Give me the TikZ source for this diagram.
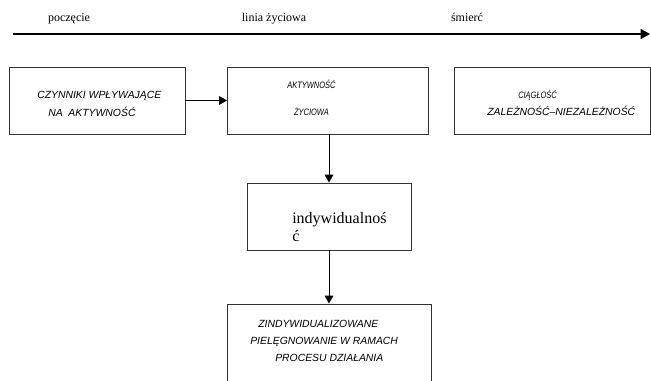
\documentclass[tikz,border=0pt]{standalone}
\usepackage{fontspec}
\usepackage{graphicx}
\setmainfont{Liberation Serif}
\setsansfont{Liberation Sans}
\newcommand{\narrowtxt}[1]{\scalebox{0.8}[1]{#1}}
\usetikzlibrary{arrows.meta, positioning}

\begin{document}
\begin{tikzpicture}[
    x=0.75pt, y=-0.75pt,
    box/.style={rectangle, draw=black!80, line width=0.6pt, inner sep=0pt},
    boxtxt/.style={inner sep=0pt, align=left,
                   font=\sffamily\itshape\fontsize{7.8}{13.5}\selectfont},
    lbl/.style={inner sep=0pt, font=\fontsize{9}{11}\selectfont},
    arr/.style={-{Triangle[length=6pt, width=6.5pt]}, line width=0.7pt},
    timeline/.style={-{Triangle[length=7pt, width=7.5pt]}, line width=1pt}
  ]
    \clip (0,0) rectangle (651,381);

    % time axis
    \coordinate (birth) at (13,34);
    \coordinate (death) at (650,34);
    \draw[timeline] (birth) -- (death);
    \node[lbl, anchor=base] (conception) at (69,22)  {poczęcie};
    \node[lbl, anchor=base] (lifeline)   at (274,22) {linia życiowa};
    \node[lbl, anchor=base] (dying)      at (467,22) {śmierć};

    % boxes
    \node[box, minimum width=132pt, minimum height=50.25pt]   (factors)    at (97,100.5)  {};
    \node[box, minimum width=150.75pt, minimum height=50.25pt] (activity)   at (328,100.5) {};
    \node[box, minimum width=147pt, minimum height=50.25pt]   (continuity) at (552,100.5) {};
    \node[box, minimum width=123pt, minimum height=50.25pt]   (individ)    at (329,216.5) {};
    \node[box, minimum width=153pt, minimum height=75pt]      (care)       at (329,354)   {};

    % box texts (base = last line)
    \node[boxtxt, anchor=base west] (factorstxt) at (37,116.5)
      {CZYNNIKI WPŁYWAJĄCE\\\hspace*{8.25pt}NA~~AKTYWNOŚĆ};
    \node[boxtxt, anchor=base, align=center,
          font=\sffamily\itshape\fontsize{7}{20.5}\selectfont] (activitytxt) at (311.5,116)
      {\narrowtxt{AKTYWNOŚĆ}\\\narrowtxt{ŻYCIOWA}};
    \node[boxtxt, anchor=base west, font=\sffamily\itshape\fontsize{7.8}{13.2}\selectfont] (continuitytxt) at (487,116)
      {\hspace*{23.25pt}{\fontsize{7}{13.2}\selectfont\narrowtxt{CIĄGŁOŚĆ}}\\ZALEŻNOŚĆ–NIEZALEŻNOŚĆ};
    \node[inner sep=0pt, align=left, anchor=base west,
          font=\fontsize{12}{13.5}\selectfont] (individtxt) at (292,242)
      {indywidualnoś\\ć};
    \node[boxtxt, anchor=base west, font=\sffamily\itshape\fontsize{7.8}{12.75}\selectfont] (caretxt) at (250,362)
      {\hspace*{6pt}ZINDYWIDUALIZOWANE\\PIELĘGNOWANIE W RAMACH\\\hspace*{18.75pt}PROCESU DZIAŁANIA};

    \draw[arr] (factors) -- (activity);
    \draw[arr] (individ.north |- activity.south) -- (individ);
    \draw[arr] (individ) -- (care);

  \end{tikzpicture}
\end{document}
